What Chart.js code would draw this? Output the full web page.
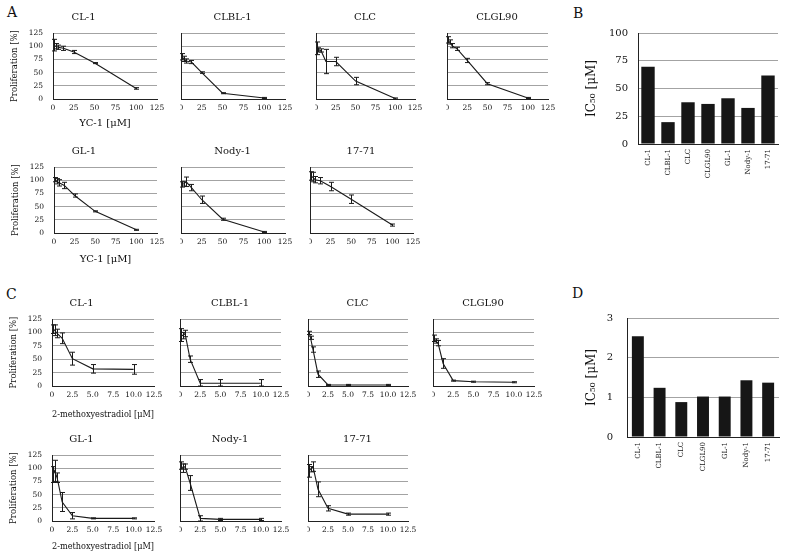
<!DOCTYPE html>
<html>
<head>
<meta charset="utf-8">
<script src="https://cdn.jsdelivr.net/npm/chart.js@4.4.1/dist/chart.umd.min.js"></script>
<style>
html, body { margin: 0; padding: 0; background: #fff; }
#fig { position: relative; width: 787px; height: 559px; overflow: hidden; }
#fig canvas { position: absolute; }
.panel { position: absolute; font: 14px 'DejaVu Serif', serif; line-height: 14px; color: #111; }
</style>
</head>
<body>
<div id="fig">
    <div class="panel" style="left:7px; top:5px;">A</div>
    <div class="panel" style="left:573px; top:6px;">B</div>
    <div class="panel" style="left:6px; top:287px;">C</div>
    <div class="panel" style="left:572px; top:286px;">D</div>
</div>
<script>
// doses (µM)
const ycDoses = [1.5625, 3.125, 6.25, 12.5, 25, 50, 100];
const meDoses = [0.156, 0.3125, 0.625, 1.25, 2.5, 5, 10];

// YC-1 proliferation (%) and error
const ycCL1 = [102, 100, 98, 96, 89, 68, 20];
const ycCL1Err = [11, 5, 4, 4, 3, 1, 1.5];
const ycCLBL1 = [80, 76, 72, 70, 50, 11, 2];
const ycCLBL1Err = [6, 5, 4, 3, 1.5, 1, 1];
const ycCLC = [96, 93, 92, 71, 71, 34, 1];
const ycCLCErr = [12, 4, 3, 23, 8, 7, 1];
const ycCLGL90 = [112, 108, 101, 95, 73, 29, 2];
const ycCLGL90Err = [6, 4, 4, 3, 4, 2, 1];
const ycGL1 = [101, 98, 95, 90, 71, 41, 6];
const ycGL1Err = [4, 5, 6, 6, 3, 1, 1];
const ycNody1 = [92, 93, 97, 86, 63, 26, 2];
const ycNody1Err = [5, 4, 9, 6, 7, 2, 1];
const yc1771 = [108, 106, 101, 99, 88, 64, 15];
const yc1771Err = [8, 9, 6, 6, 8, 8, 2];

// 2-methoxyestradiol proliferation (%) and error
const meCL1 = [106, 104, 98, 89, 51, 32, 31];
const meCL1Err = [8, 10, 8, 10, 12, 8, 9];
const meCLBL1 = [95, 94, 98, 50, 5, 5, 5];
const meCLBL1Err = [12, 6, 6, 6, 7, 7, 7];
const meCLC = [99, 90, 68, 22, 2, 2, 2];
const meCLCErr = [3, 3, 5, 6, 1, 1, 1];
const meCLGL90 = [89, 84, 80, 42, 10, 8, 7];
const meCLGL90Err = [6, 4, 5, 9, 1, 1, 1];
const meGL1 = [88, 95, 82, 36, 10, 5, 5];
const meGL1Err = [15, 20, 9, 18, 6, 1, 1];
const meNody1 = [105, 100, 103, 72, 5, 3, 3];
const meNody1Err = [7, 8, 5, 14, 5, 2, 2];
const me1771 = [95, 98, 103, 60, 24, 13, 13];
const me1771Err = [12, 5, 9, 14, 5, 2, 2];

// IC50 bars
const cellLines = ['CL-1', 'CLBL-1', 'CLC', 'CLGL90', 'GL-1', 'Nody-1', '17-71'];
const ic50YC = [69.5, 19.7, 37.6, 36.1, 41.2, 32.5, 61.8];
const ic50ME = [2.54, 1.24, 0.88, 1.02, 1.02, 1.43, 1.37];

Chart.defaults.font.family = "'DejaVu Serif', serif";
Chart.defaults.color = '#111';

const fig = document.getElementById('fig');
const gridGray = '#a3a3a3';
const ink = '#1a1a1a';

const errorBars = {
    id: 'errorBars',
    afterDatasetsDraw(chart) {
        const { ctx, scales: { x, y } } = chart;
        chart.data.datasets.forEach(ds => {
            if (!ds.errors) return;
            ctx.save();
            ctx.strokeStyle = ink;
            ctx.lineWidth = 1;
            ds.data.forEach((p, i) => {
                const e = ds.errors[i];
                const px = Math.round(x.getPixelForValue(p.x)) + 0.5;
                const yTop = y.getPixelForValue(p.y + e);
                const yBot = y.getPixelForValue(Math.max(0, p.y - e));
                ctx.beginPath();
                ctx.moveTo(px, yTop); ctx.lineTo(px, yBot);
                ctx.moveTo(px - 2.5, yTop); ctx.lineTo(px + 2.5, yTop);
                ctx.moveTo(px - 2.5, yBot); ctx.lineTo(px + 2.5, yBot);
                ctx.stroke();
            });
            ctx.restore();
        });
    }
};

function addCanvas(left, top, w, h) {
    const c = document.createElement('canvas');
    c.width = w; c.height = h;
    c.style.left = left + 'px'; c.style.top = top + 'px';
    c.style.width = w + 'px'; c.style.height = h + 'px';
    fig.appendChild(c);
    return c;
}

function doseChart(o) {
    const yW = o.first ? 43 : 1;
    const padR = 12;
    const left = o.L - yW, top = o.T - 22;
    const canvas = addCanvas(left, top, o.R + padR - left, o.B + o.xH - top);
    new Chart(canvas, {
        type: 'line',
        data: {
            datasets: [{
                data: o.doses.map((d, i) => ({ x: d, y: o.mean[i] })),
                errors: o.err,
                borderColor: ink,
                borderWidth: 1.1,
                pointRadius: 0,
                tension: 0,
                fill: false
            }]
        },
        options: {
            responsive: false, animation: false, devicePixelRatio: 1,
            layout: { padding: { left: 0, right: padR, top: 0, bottom: 0 } },
            plugins: {
                legend: { display: false },
                tooltip: { enabled: false },
                title: { display: true, text: o.title, font: { size: 10, weight: 'normal' }, color: '#111', padding: { top: 0, bottom: 10 } }
            },
            scales: {
                x: {
                    type: 'linear', min: 0, max: o.xMax,
                    grid: { display: false, drawTicks: false },
                    border: { color: '#222', width: 1 },
                    ticks: { stepSize: o.xStep, font: { size: 7.5 }, padding: 5, maxRotation: 0, autoSkip: false, callback: o.fmt },
                    title: { display: !!o.xTitle, text: o.xTitle, font: { size: o.xTitleSize }, padding: 0 },
                    afterFit: s => { s.height = o.xH; s.paddingLeft = 0; s.paddingRight = 0; }
                },
                y: {
                    min: 0, max: 125,
                    grid: { color: gridGray, drawTicks: false },
                    border: { color: '#222' },
                    ticks: { display: o.first, stepSize: 25, font: { size: 7.5 }, padding: 10 },
                    title: { display: o.first, text: 'Proliferation [%]', font: { size: 8.5 }, padding: 0 },
                    afterFit: s => { s.width = yW; s.paddingTop = 0; s.paddingBottom = 0; }
                }
            }
        },
        plugins: [errorBars]
    });
}

function ic50Chart(o) {
    const left = o.L - o.yW, top = o.T - 8;
    const canvas = addCanvas(left, top, o.R + 3 - left, o.B + 45 - top);
    new Chart(canvas, {
        type: 'bar',
        data: {
            labels: cellLines,
            datasets: [{ data: o.values, backgroundColor: '#161616', barPercentage: o.barPct, categoryPercentage: 1 }]
        },
        options: {
            responsive: false, animation: false, devicePixelRatio: 1,
            layout: { padding: { left: 0, right: 3, top: 8, bottom: 0 } },
            plugins: { legend: { display: false }, tooltip: { enabled: false } },
            scales: {
                x: {
                    grid: { display: false, drawTicks: false },
                    border: { color: '#222' },
                    ticks: { font: { size: 7 }, minRotation: 90, maxRotation: 90, padding: 5, autoSkip: false },
                    afterFit: s => { s.height = 45; s.paddingLeft = 0; s.paddingRight = 0; }
                },
                y: {
                    min: 0, max: o.yMax,
                    grid: { color: gridGray, drawTicks: false },
                    border: { color: '#222' },
                    ticks: { stepSize: o.yStep, font: { size: 10 }, padding: o.tickPad },
                    title: { display: true, text: 'IC₅₀ [μM]', font: { size: 12 }, padding: 0 },
                    afterFit: s => { s.width = o.yW; s.paddingTop = 0; s.paddingBottom = 0; }
                }
            }
        }
    });
}

const ycFmt = v => v;
const meFmt = v => v === 0 ? '0' : v.toFixed(1);
const yc = { doses: ycDoses, xMax: 125, xStep: 25, fmt: ycFmt, xTitleSize: 10 };
const me = { doses: meDoses, xMax: 12.5, xStep: 2.5, fmt: meFmt, xTitleSize: 9 };

// panel A
doseChart({ ...yc, title: 'CL-1', mean: ycCL1, err: ycCL1Err, L: 53, R: 157, T: 33, B: 99, first: true, xTitle: 'YC-1 [μM]', xH: 30 });
doseChart({ ...yc, title: 'CLBL-1', mean: ycCLBL1, err: ycCLBL1Err, L: 181, R: 285, T: 33, B: 99, first: false, xH: 20 });
doseChart({ ...yc, title: 'CLC', mean: ycCLC, err: ycCLCErr, L: 316, R: 415, T: 33, B: 99, first: false, xH: 20 });
doseChart({ ...yc, title: 'CLGL90', mean: ycCLGL90, err: ycCLGL90Err, L: 447, R: 548, T: 33, B: 99, first: false, xH: 20 });
doseChart({ ...yc, title: 'GL-1', mean: ycGL1, err: ycGL1Err, L: 54, R: 157, T: 167, B: 233, first: true, xTitle: 'YC-1 [μM]', xH: 32 });
doseChart({ ...yc, title: 'Nody-1', mean: ycNody1, err: ycNody1Err, L: 181, R: 285, T: 167, B: 233, first: false, xH: 20 });
doseChart({ ...yc, title: '17-71', mean: yc1771, err: yc1771Err, L: 310, R: 413, T: 167, B: 233, first: false, xH: 20 });

// panel C
doseChart({ ...me, title: 'CL-1', mean: meCL1, err: meCL1Err, L: 52, R: 154, T: 319, B: 386, first: true, xTitle: '2-methoxyestradiol [μM]', xH: 34 });
doseChart({ ...me, title: 'CLBL-1', mean: meCLBL1, err: meCLBL1Err, L: 180, R: 281, T: 319, B: 386, first: false, xH: 20 });
doseChart({ ...me, title: 'CLC', mean: meCLC, err: meCLCErr, L: 308, R: 408, T: 319, B: 386, first: false, xH: 20 });
doseChart({ ...me, title: 'CLGL90', mean: meCLGL90, err: meCLGL90Err, L: 433, R: 534, T: 319, B: 386, first: false, xH: 20 });
doseChart({ ...me, title: 'GL-1', mean: meGL1, err: meGL1Err, L: 52, R: 154, T: 455, B: 521, first: true, xTitle: '2-methoxyestradiol [μM]', xH: 31 });
doseChart({ ...me, title: 'Nody-1', mean: meNody1, err: meNody1Err, L: 180, R: 281, T: 455, B: 521, first: false, xH: 20 });
doseChart({ ...me, title: '17-71', mean: me1771, err: me1771Err, L: 308, R: 408, T: 455, B: 521, first: false, xH: 20 });

// panels B and D
ic50Chart({ values: ic50YC, yMax: 100, yStep: 25, L: 638, R: 778, T: 33, B: 144, yW: 53, tickPad: 10, barPct: 0.67 });
ic50Chart({ values: ic50ME, yMax: 3, yStep: 1, L: 627, R: 779, T: 318, B: 437, yW: 42, tickPad: 14, barPct: 0.55 });
</script>
</body>
</html>
